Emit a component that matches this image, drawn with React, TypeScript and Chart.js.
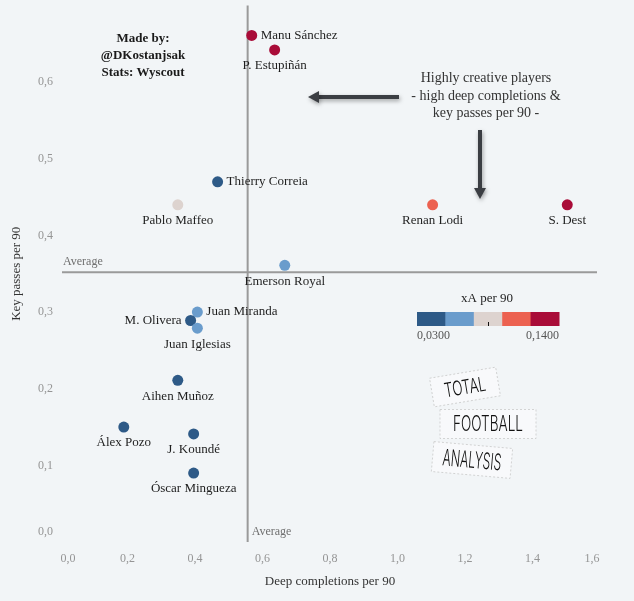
import React, { useEffect, useRef } from "react";
import { Chart, registerables } from "chart.js";

Chart.register(...registerables);

const players = [
  "Manu Sánchez", "P. Estupiñán", "Thierry Correia", "Pablo Maffeo", "Renan Lodi", "S. Dest",
  "Emerson Royal", "Juan Miranda", "M. Olivera", "Juan Iglesias", "Aihen Muñoz", "Álex Pozo",
  "J. Koundé", "Óscar Mingueza",
];
const deepCompletions = [0.568, 0.636, 0.467, 0.349, 1.104, 1.503, 0.666, 0.407, 0.387, 0.407, 0.349, 0.189, 0.396, 0.396];
const keyPasses = [0.661, 0.642, 0.47, 0.44, 0.44, 0.44, 0.361, 0.3, 0.289, 0.279, 0.211, 0.15, 0.141, 0.09];
const xAPer90 = [0.135, 0.128, 0.042, 0.085, 0.108, 0.14, 0.063, 0.06, 0.045, 0.066, 0.038, 0.035, 0.03, 0.033];
const labelSide = ["right", "below", "right", "below", "below", "below", "below", "right", "left", "below", "below", "below", "below", "below"];

const xTicks = [0, 0.2, 0.4, 0.6, 0.8, 1.0, 1.2, 1.4, 1.6];
const yTicks = [0, 0.1, 0.2, 0.3, 0.4, 0.5, 0.6];
const avgDeep = 0.556;
const avgKey = 0.352;
const xAMin = 0.03;
const xAMax = 0.14;
const colorSteps = ["#2e5a87", "#6a9ccc", "#ddd3cf", "#ec6150", "#a90c38"];

const BG = "#f2f5f7";
const SERIF = "'Liberation Serif', serif";

function colorFor(v: number) {
  let i = Math.floor(((v - xAMin) / (xAMax - xAMin)) * colorSteps.length);
  if (i < 0) i = 0;
  if (i > colorSteps.length - 1) i = colorSteps.length - 1;
  return colorSteps[i];
}

const fmt = (v: number) => v.toFixed(1).replace(".", ",");

function drawArrow(ctx: CanvasRenderingContext2D, x1: number, y1: number, x2: number, y2: number) {
  const ang = Math.atan2(y2 - y1, x2 - x1);
  const headLen = 11;
  const headW = 6;
  ctx.save();
  ctx.shadowColor = "rgba(0,0,0,0.35)";
  ctx.shadowBlur = 4;
  ctx.shadowOffsetX = 1;
  ctx.shadowOffsetY = 2;
  ctx.strokeStyle = "#3b3e43";
  ctx.fillStyle = "#3b3e43";
  ctx.lineWidth = 4;
  ctx.beginPath();
  ctx.moveTo(x1, y1);
  ctx.lineTo(x2 - Math.cos(ang) * headLen * 0.8, y2 - Math.sin(ang) * headLen * 0.8);
  ctx.stroke();
  ctx.beginPath();
  ctx.moveTo(x2, y2);
  ctx.lineTo(x2 - Math.cos(ang) * headLen - Math.sin(ang) * headW, y2 - Math.sin(ang) * headLen + Math.cos(ang) * headW);
  ctx.lineTo(x2 - Math.cos(ang) * headLen + Math.sin(ang) * headW, y2 - Math.sin(ang) * headLen - Math.cos(ang) * headW);
  ctx.closePath();
  ctx.fill();
  ctx.restore();
}

function drawLogoBox(ctx: CanvasRenderingContext2D, cx: number, cy: number, w: number, h: number, angDeg: number, text: string, textW: number, textH: number) {
  ctx.save();
  ctx.translate(cx, cy);
  ctx.rotate((angDeg * Math.PI) / 180);
  ctx.fillStyle = "rgba(255,255,255,0.45)";
  ctx.fillRect(-w / 2, -h / 2, w, h);
  ctx.setLineDash([2, 2]);
  ctx.strokeStyle = "#c4c4c4";
  ctx.lineWidth = 0.7;
  ctx.strokeRect(-w / 2, -h / 2, w, h);
  ctx.setLineDash([]);
  ctx.font = `300 ${textH}px Inter, 'DejaVu Sans', sans-serif`;
  ctx.fillStyle = "#111";
  ctx.textAlign = "center";
  ctx.textBaseline = "middle";
  const mw = ctx.measureText(text).width;
  ctx.scale(textW / mw, 1);
  ctx.fillText(text, 0, 1);
  ctx.restore();
}

const overlayPlugin = {
  id: "overlay",
  beforeDraw(chart: any) {
    const { ctx, width, height } = chart;
    ctx.save();
    ctx.fillStyle = BG;
    ctx.fillRect(0, 0, width, height);
    ctx.restore();
  },
  beforeDatasetsDraw(chart: any) {
    const { ctx, chartArea, scales } = chart;
    const xs = scales.x;
    const ys = scales.y;
    ctx.save();
    ctx.strokeStyle = "#9a9a9a";
    ctx.lineWidth = 2;
    const ax = xs.getPixelForValue(avgDeep);
    const ay = ys.getPixelForValue(avgKey);
    ctx.beginPath();
    ctx.moveTo(ax, chartArea.top);
    ctx.lineTo(ax, chartArea.bottom);
    ctx.stroke();
    ctx.beginPath();
    ctx.moveTo(chartArea.left + 2, ay);
    ctx.lineTo(chartArea.right - 3, ay);
    ctx.stroke();

    ctx.fillStyle = "#6f6f6f";
    ctx.font = `12px ${SERIF}`;
    ctx.textAlign = "left";
    ctx.textBaseline = "middle";
    ctx.fillText("Average", chartArea.left + 3, ay - 10);
    ctx.fillText("Average", ax + 4, chartArea.bottom - 10);

    // tick labels
    ctx.fillStyle = "#959595";
    ctx.font = `12px ${SERIF}`;
    ctx.textAlign = "right";
    for (const v of yTicks) {
      let py = ys.getPixelForValue(v);
      py = Math.min(py, chartArea.bottom - 10);
      ctx.fillText(fmt(v), chartArea.left - 7, py);
    }
    ctx.textAlign = "center";
    for (const v of xTicks) {
      let px = xs.getPixelForValue(v);
      px = Math.max(chartArea.left + 8, Math.min(chartArea.right - 8, px));
      ctx.fillText(fmt(v), px, chartArea.bottom + 17);
    }

    // axis titles
    ctx.fillStyle = "#333";
    ctx.font = `13px ${SERIF}`;
    ctx.fillText("Deep completions per 90", (chartArea.left + chartArea.right) / 2, chartArea.bottom + 40);
    ctx.save();
    ctx.translate(17, (chartArea.top + chartArea.bottom) / 2);
    ctx.rotate(-Math.PI / 2);
    ctx.fillText("Key passes per 90", 0, 0);
    ctx.restore();

    // credits
    ctx.fillStyle = "#1a1a1a";
    ctx.font = `bold 13px ${SERIF}`;
    ctx.textAlign = "center";
    ctx.fillText("Made by:", 143, 39);
    ctx.fillText("@DKostanjsak", 143, 56);
    ctx.fillText("Stats: Wyscout", 143, 73);

    // annotation
    ctx.fillStyle = "#333";
    ctx.font = `14px ${SERIF}`;
    ctx.fillText("Highly creative players", 486, 78);
    ctx.fillText("- high deep completions &", 486, 96);
    ctx.fillText("key passes per 90 -", 486, 113);
    drawArrow(ctx, 399, 97, 308, 97);
    drawArrow(ctx, 480, 130, 480, 199);

    // colour legend
    ctx.fillStyle = "#222";
    ctx.font = `13px ${SERIF}`;
    ctx.fillText("xA per 90", 487, 299);
    const lx = 417, lw = 142, ly = 312, lh = 14;
    const seg = lw / colorSteps.length;
    colorSteps.forEach((c, i) => {
      ctx.fillStyle = c;
      ctx.fillRect(lx + i * seg, ly, seg + 0.5, lh);
    });
    ctx.strokeStyle = "#111";
    ctx.lineWidth = 1;
    ctx.beginPath();
    ctx.moveTo(488.5, ly + lh - 4);
    ctx.lineTo(488.5, ly + lh);
    ctx.stroke();
    ctx.fillStyle = "#555";
    ctx.font = `12px ${SERIF}`;
    ctx.textAlign = "left";
    ctx.fillText("0,0300", lx, 336);
    ctx.textAlign = "right";
    ctx.fillText("0,1400", lx + lw, 336);

    // logo
    drawLogoBox(ctx, 465, 387, 67, 29, -9.5, "TOTAL", 42, 20);
    drawLogoBox(ctx, 488, 424, 96, 29, 0, "FOOTBALL", 70, 21);
    drawLogoBox(ctx, 472, 460, 79, 30, 5, "ANALYSIS", 59, 23);
    ctx.restore();
  },
  afterDatasetsDraw(chart: any) {
    const { ctx, scales } = chart;
    ctx.save();
    ctx.fillStyle = "#1e1e1e";
    ctx.font = `13px ${SERIF}`;
    ctx.textBaseline = "middle";
    players.forEach((name, i) => {
      const px = scales.x.getPixelForValue(deepCompletions[i]);
      const py = scales.y.getPixelForValue(keyPasses[i]);
      const side = labelSide[i];
      if (side === "right") {
        ctx.textAlign = "left";
        ctx.fillText(name, px + 9, py);
      } else if (side === "left") {
        ctx.textAlign = "right";
        ctx.fillText(name, px - 9, py);
      } else {
        ctx.textAlign = "center";
        ctx.fillText(name, px, py + 16);
      }
    });
    ctx.restore();
  },
};

export default function App() {
  const ref = useRef<HTMLCanvasElement | null>(null);
  useEffect(() => {
    document.body.style.margin = "0";
    document.body.style.background = BG;
    if (!ref.current) return;
    const points = players.map((_, i) => ({ x: deepCompletions[i], y: keyPasses[i] }));
    const chart = new Chart(ref.current, {
      type: "scatter",
      data: {
        datasets: [
          {
            data: points,
            pointBackgroundColor: xAPer90.map(colorFor),
            pointBorderWidth: 0,
            pointRadius: 5.5,
            pointHoverRadius: 5.5,
          },
        ],
      },
      options: {
        responsive: false,
        animation: false,
        layout: { padding: { top: 4, right: 34, left: 0, bottom: 0 } },
        plugins: { legend: { display: false }, tooltip: { enabled: false } },
        scales: {
          x: {
            type: "linear",
            min: 0,
            max: 1.6,
            grid: { display: false },
            border: { display: false },
            ticks: { display: false },
            afterFit: (s: any) => { s.height = 59; },
          },
          y: {
            type: "linear",
            min: 0,
            max: 0.7,
            grid: { display: false },
            border: { display: false },
            ticks: { display: false },
            afterFit: (s: any) => { s.width = 60; },
          },
        },
      },
      plugins: [overlayPlugin],
    } as any);
    return () => chart.destroy();
  }, []);
  return <canvas ref={ref} width={634} height={601} style={{ display: "block" }} />;
}
